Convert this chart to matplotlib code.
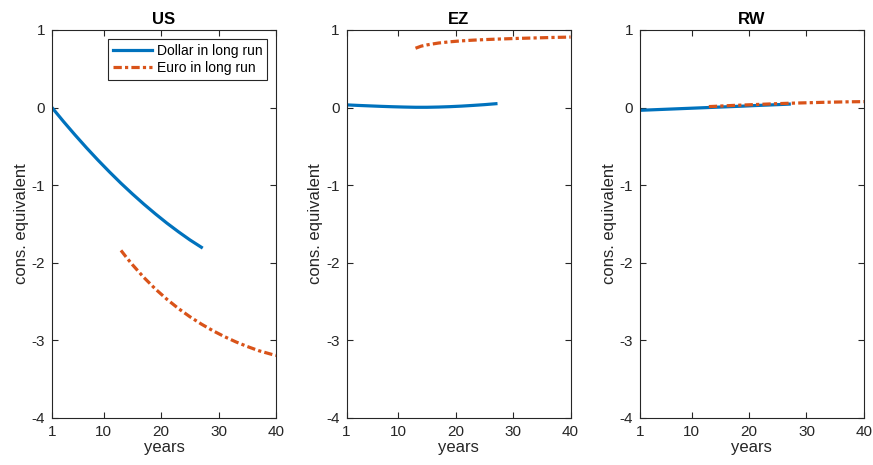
import matplotlib
matplotlib.use('Agg')
import matplotlib.pyplot as plt

plt.rcParams['font.family'] = ['Liberation Sans', 'DejaVu Sans']
plt.rcParams['axes.unicode_minus'] = False

# horizon in years
dollar_years = [1, 3, 5, 7, 9, 11, 13, 15, 17, 19, 21, 23, 25, 27]
euro_years = [13, 14, 15, 17, 19, 21, 23, 25, 27, 29, 31, 33, 35, 37, 39, 40]

regions = ['US', 'EZ', 'RW']

# consumption equivalent, dollar stays dominant in the long run
dollar_us = [0.00, -0.180, -0.352, -0.518, -0.677, -0.829, -0.975, -1.113, -1.245, -1.370, -1.489, -1.600, -1.705, -1.800]
dollar_ez = [0.035, 0.028, 0.022, 0.016, 0.011, 0.007, 0.004, 0.004, 0.007, 0.012, 0.019, 0.028, 0.038, 0.050]
dollar_rw = [-0.035, -0.029, -0.023, -0.017, -0.011, -0.005, 0.001, 0.007, 0.013, 0.019, 0.026, 0.032, 0.038, 0.045]

# consumption equivalent, euro takes over in the long run
euro_us = [-1.840, -1.935, -2.025, -2.190, -2.338, -2.470, -2.589, -2.695, -2.790, -2.875, -2.951, -3.019, -3.079, -3.133, -3.175, -3.195]
euro_ez = [0.765, 0.792, 0.808, 0.832, 0.848, 0.860, 0.869, 0.876, 0.882, 0.887, 0.892, 0.896, 0.900, 0.904, 0.907, 0.909]
euro_rw = [0.013, 0.016, 0.020, 0.027, 0.033, 0.039, 0.045, 0.051, 0.056, 0.060, 0.064, 0.068, 0.071, 0.074, 0.076, 0.077]

dollar = {'US': dollar_us, 'EZ': dollar_ez, 'RW': dollar_rw}
euro = {'US': euro_us, 'EZ': euro_ez, 'RW': euro_rw}

blue = '#0072BD'
orange = '#D95319'
axcol = '#262626'

fig = plt.figure(figsize=(8.73, 4.65), dpi=100)
lefts = [0.0596, 0.397, 0.733]
width = 0.2566

for i, reg in enumerate(regions):
    ax = fig.add_axes([lefts[i], 0.1011, width, 0.8344])
    ax.plot(dollar_years, dollar[reg], color=blue, lw=2.3, label='Dollar in long run')
    ax.plot(euro_years, euro[reg], color=orange, lw=2.3, dashes=(2.6, 1.0, 1.0, 1.0),
            label='Euro in long run')

    ax.set_xlim(1, 40)
    ax.set_ylim(-4, 1)
    ax.set_xticks([1, 10, 20, 30, 40])
    ax.set_yticks([-4, -3, -2, -1, 0, 1])
    ax.tick_params(direction='in', top=True, right=True, length=4, width=0.8,
                   colors=axcol, labelsize=11, pad=5)
    for s in ax.spines.values():
        s.set_color(axcol)
        s.set_linewidth(0.8)

    ax.set_title(reg, fontsize=12, fontweight='bold', pad=4)
    ax.set_xlabel('years', fontsize=12, color=axcol, labelpad=1)
    ax.set_ylabel('cons. equivalent', fontsize=12, color=axcol, labelpad=2)

    if reg == 'US':
        leg = ax.legend(loc='upper right', fontsize=10, fancybox=False, framealpha=1,
                        edgecolor=axcol, handlelength=2.8, borderaxespad=0.65,
                        borderpad=0.35, labelspacing=0.25, handletextpad=0.35)
        leg.get_frame().set_linewidth(0.8)

plt.savefig('out.png', dpi=100)
